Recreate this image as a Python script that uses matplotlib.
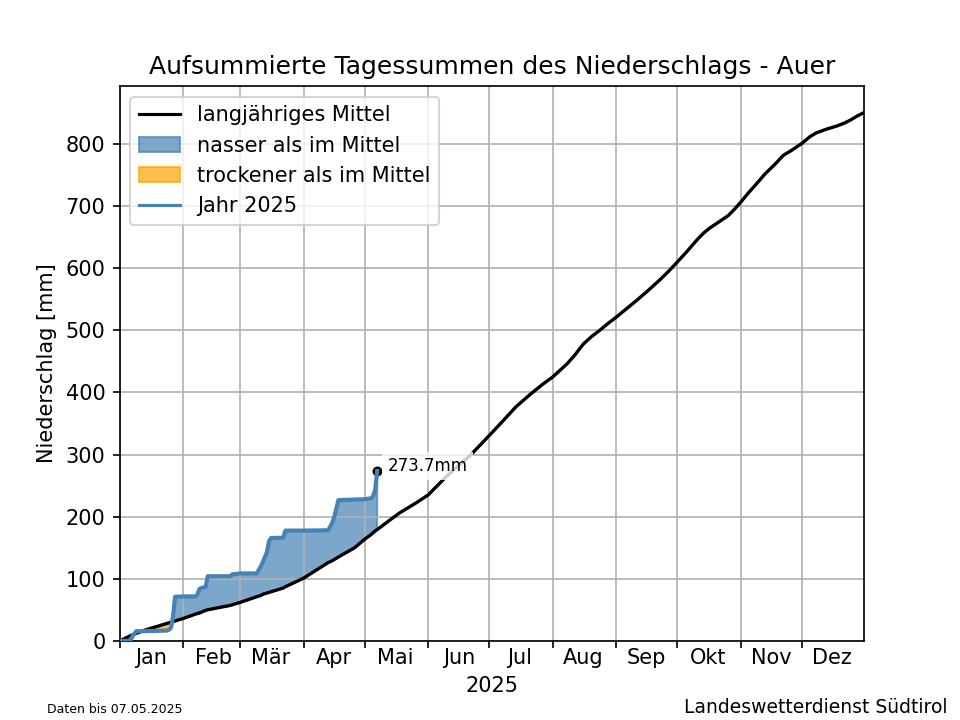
import numpy as np
import pandas as pd
import matplotlib
matplotlib.use("Agg")
import matplotlib.pyplot as plt
import matplotlib.dates as mdates
from matplotlib.ticker import FixedFormatter

# Tage seit 1. Januar
tage_2025 = [0, 5, 6, 8, 12, 18, 23, 24, 25, 26, 27, 31, 37, 38, 39, 42, 43, 54, 55, 59,
             67, 69, 70, 72, 73, 74, 80, 81, 90, 102, 104, 105, 107, 115, 120, 123, 124, 125, 126]
regen_2025 = [0, 0, 7, 15.5, 15.5, 16, 16.5, 18, 21, 40, 71, 71.5, 71.5, 75, 84, 87, 104, 104, 107, 108.5,
              108.5, 120, 127, 143, 160, 165.5, 166, 177.5, 177.5, 178, 190, 200, 226.5, 227.5, 228, 229.5, 233, 243, 273.7]
mittel_2025 = [0, 8, 9.5, 12, 17, 23, 28, 29, 30, 31, 32, 36, 43, 44, 45, 49, 50, 57, 58, 62,
               71, 73, 75, 77, 78, 79, 85, 87, 101, 126, 129, 131, 135, 150, 164, 171, 174, 177, 179]

# Rest des langjaehrigen Mittels
tage_rest = [132, 137, 145, 151, 160, 172, 181, 187, 194, 201, 207, 212, 219, 223, 227, 231, 235, 239, 243,
             253, 259, 265, 269, 273, 278, 283, 286, 289, 294, 298, 301, 304, 308, 311, 316, 321, 325, 329,
             334, 338, 341, 346, 351, 355, 358, 361, 364]
mittel_rest = [194, 206, 222, 235, 265, 300, 331, 352, 377, 397, 413, 425, 446, 461, 478, 490, 500, 511, 521,
               548, 565, 583, 596, 610, 628, 647, 657, 665, 676, 685, 695, 706, 722, 733, 752, 768, 782, 790,
               801, 812, 818, 824, 829, 834, 839, 845, 850]

monate = ["Jan", "Feb", "Mär", "Apr", "Mai", "Jun", "Jul", "Aug", "Sep", "Okt", "Nov", "Dez"]

start = pd.Timestamp("2025-01-01")
datum_2025 = start + pd.to_timedelta(tage_2025, unit="D")
datum_mittel = start + pd.to_timedelta(tage_2025 + tage_rest, unit="D")
regen = np.array(regen_2025)
mittel = np.array(mittel_2025)

fig, ax = plt.subplots(figsize=(6.4, 4.8), dpi=150)

ax.plot(datum_mittel, mittel_2025 + mittel_rest, color="black", lw=1.6, label="langjähriges Mittel", zorder=3)
ax.fill_between(datum_2025, mittel, regen, where=regen >= mittel, interpolate=True,
                color="steelblue", alpha=0.7, label="nasser als im Mittel")
ax.fill_between(datum_2025, mittel, regen, where=regen < mittel, interpolate=True,
                color="orange", alpha=0.7, label="trockener als im Mittel")
ax.plot(datum_2025, regen, color="steelblue", lw=2, label="Jahr 2025", zorder=4)

# Letzter Wert
ax.scatter(datum_2025[-1], regen[-1], color="black", s=14, zorder=3.5)
ax.annotate(f"{regen[-1]:.1f}mm", (datum_2025[-1], regen[-1]), xytext=(5, 0),
            textcoords="offset points", fontsize=8, zorder=5,
            bbox=dict(facecolor="white", edgecolor="none", alpha=0.8, pad=2.5))

ax.set_xlim(pd.Timestamp("2025-01-01"), pd.Timestamp("2025-12-31 12:00"))
ax.set_ylim(0, 893)

ax.xaxis.set_major_locator(mdates.MonthLocator())
ax.xaxis.set_major_formatter(plt.NullFormatter())
ax.xaxis.set_minor_locator(mdates.MonthLocator(bymonthday=16))
ax.xaxis.set_minor_formatter(FixedFormatter(monate))
ax.tick_params(axis="x", which="minor", length=0)

ax.grid(True)
ax.set_xlabel("2025")
ax.set_ylabel("Niederschlag [mm]")
ax.set_title("Aufsummierte Tagessummen des Niederschlags - Auer")
leg = ax.legend(loc="upper left")
leg.get_lines()[0].set_linewidth(1.5)
leg.get_lines()[1].set_linewidth(1.5)

fig.text(0.049, 0.0097, "Daten bis 07.05.2025", fontsize=6)
fig.text(0.987, 0.0097, "Landeswetterdienst Südtirol", fontsize=9, ha="right")

fig.savefig("out.png", dpi=150)
